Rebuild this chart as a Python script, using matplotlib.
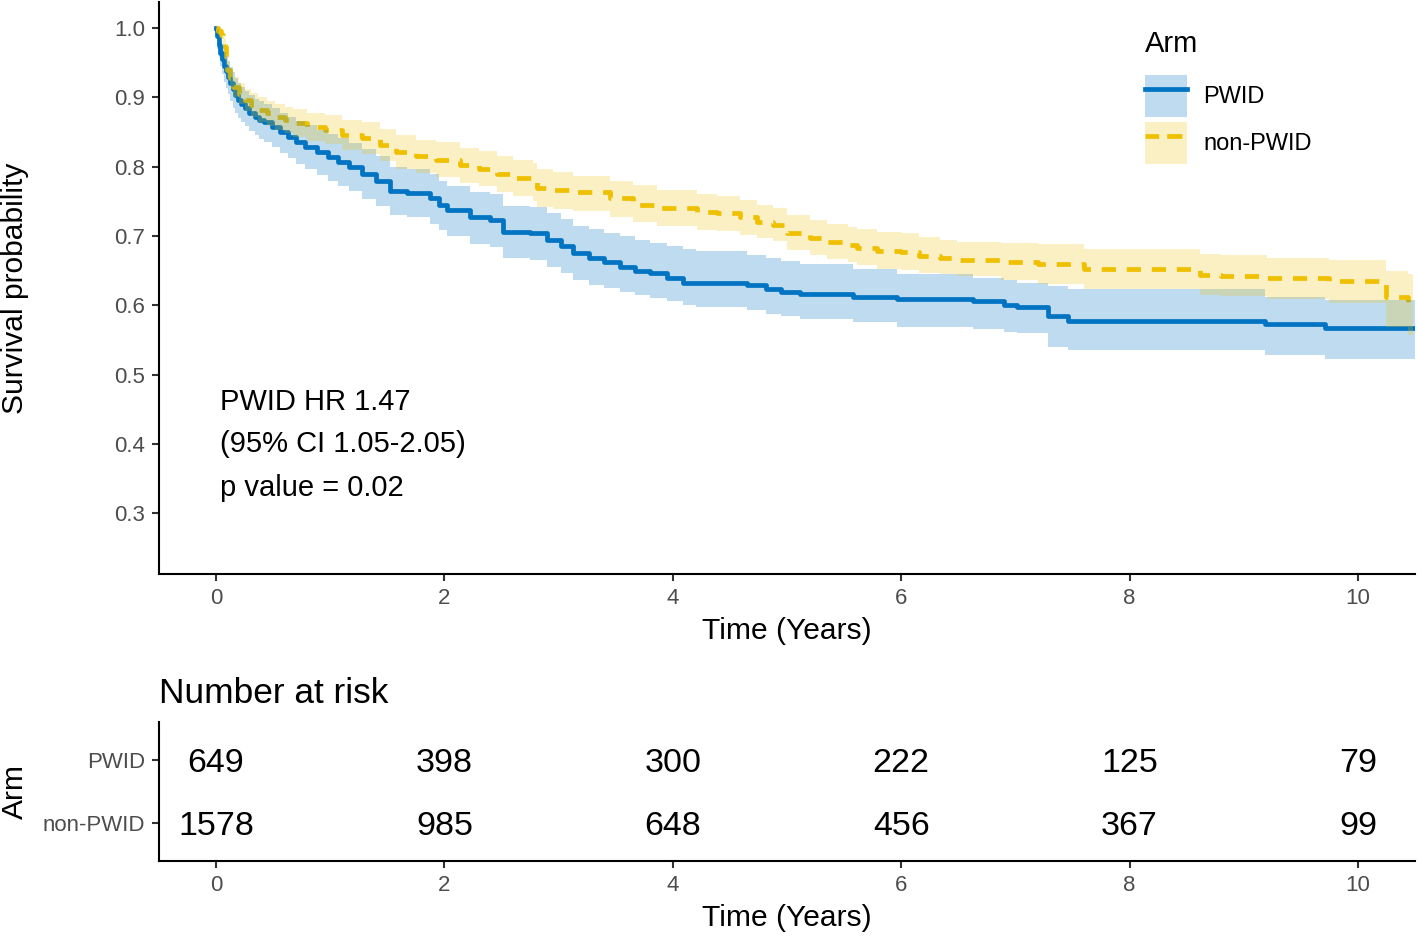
import matplotlib
matplotlib.use("Agg")
import matplotlib.pyplot as plt
from matplotlib.lines import Line2D
from matplotlib.patches import Patch
from matplotlib.legend_handler import HandlerTuple

plt.rcParams['font.family'] = ['Liberation Sans', 'DejaVu Sans']

# ---------------- data ----------------
arms = ["PWID", "non-PWID"]

pwid_time = [0.00, 0.012, 0.024, 0.035, 0.05, 0.07, 0.085, 0.105, 0.125, 0.15, 0.17, 0.19, 0.22, 0.25,
             0.29, 0.34, 0.38, 0.42, 0.49, 0.56, 0.63, 0.70, 0.78,
             0.88, 0.98, 1.07, 1.16, 1.28, 1.40, 1.52, 1.67, 1.87, 1.95, 2.02, 2.22, 2.40, 2.51,
             2.75, 2.90, 3.02, 3.13, 3.27, 3.40, 3.54, 3.67, 3.80, 3.95, 4.09, 4.20, 4.65, 4.82,
             4.95, 5.11, 5.58, 5.96, 6.63, 6.90, 7.01, 7.29, 7.46, 9.19, 9.71, 10.5]
pwid_surv = [1.000, 0.988, 0.976, 0.964, 0.955, 0.945, 0.938, 0.930, 0.921, 0.912, 0.904, 0.896, 0.890, 0.884,
             0.878, 0.872, 0.868, 0.864, 0.857, 0.850, 0.843, 0.836, 0.828,
             0.821, 0.814, 0.807, 0.800, 0.790, 0.780, 0.765, 0.762, 0.755, 0.745, 0.737, 0.727, 0.723, 0.706,
             0.704, 0.694, 0.685, 0.675, 0.668, 0.662, 0.655, 0.650, 0.646, 0.640, 0.633, 0.632, 0.629, 0.624,
             0.620, 0.616, 0.612, 0.609, 0.606, 0.600, 0.597, 0.585, 0.577, 0.573, 0.567, 0.567]
pwid_lower = [1.000, 0.970, 0.956, 0.945, 0.934, 0.922, 0.914, 0.905, 0.895, 0.885, 0.878, 0.870, 0.864, 0.858,
              0.851, 0.845, 0.840, 0.836, 0.828, 0.820, 0.812, 0.804, 0.796,
              0.788, 0.780, 0.772, 0.765, 0.754, 0.743, 0.730, 0.727, 0.718, 0.708, 0.700, 0.689, 0.684, 0.668,
              0.665, 0.656, 0.647, 0.637, 0.630, 0.625, 0.620, 0.615, 0.611, 0.606, 0.600, 0.598, 0.594, 0.588,
              0.584, 0.580, 0.576, 0.569, 0.566, 0.562, 0.560, 0.540, 0.535, 0.528, 0.522, 0.522]
pwid_upper = [1.000, 0.998, 0.990, 0.980, 0.974, 0.966, 0.960, 0.952, 0.944, 0.936, 0.928, 0.921, 0.915, 0.909,
              0.903, 0.898, 0.894, 0.891, 0.884, 0.878, 0.872, 0.866, 0.860,
              0.853, 0.847, 0.841, 0.834, 0.825, 0.815, 0.800, 0.797, 0.790, 0.780, 0.772, 0.763, 0.760, 0.744,
              0.742, 0.733, 0.725, 0.715, 0.710, 0.705, 0.700, 0.695, 0.690, 0.686, 0.681, 0.678, 0.673, 0.668,
              0.664, 0.660, 0.652, 0.645, 0.640, 0.636, 0.633, 0.628, 0.623, 0.612, 0.608, 0.608]

non_time = [0.00, 0.02, 0.04, 0.06, 0.08, 0.09, 0.10, 0.12, 0.15, 0.20, 0.25, 0.31, 0.37, 0.45, 0.52, 0.60, 0.67, 0.80, 0.95,
            1.10, 1.28, 1.44, 1.58, 1.75, 1.93, 2.14, 2.30, 2.46, 2.60, 2.78, 2.81, 2.95, 3.13, 3.45,
            3.65, 3.86, 4.21, 4.39, 4.59, 4.74, 4.88, 5.00, 5.20, 5.35, 5.53, 5.61, 5.79, 6.00, 6.16,
            6.34, 6.49, 6.87, 7.20, 7.60, 8.62, 8.80, 9.20, 9.75, 10.25, 10.44, 10.48]
non_surv = [1.000, 0.996, 0.990, 0.982, 0.973, 0.958, 0.940, 0.928, 0.915, 0.905, 0.896, 0.889, 0.882, 0.877, 0.872, 0.867, 0.863, 0.857, 0.853,
            0.846, 0.841, 0.831, 0.821, 0.815, 0.810, 0.802, 0.797, 0.789, 0.784, 0.778, 0.769, 0.766, 0.763, 0.755,
            0.745, 0.740, 0.735, 0.733, 0.728, 0.720, 0.716, 0.704, 0.697, 0.691, 0.687, 0.683, 0.678, 0.677, 0.671,
            0.668, 0.665, 0.662, 0.659, 0.652, 0.644, 0.642, 0.639, 0.635, 0.612, 0.600, 0.600]
non_lower = [1.000, 0.990, 0.980, 0.971, 0.962, 0.946, 0.928, 0.915, 0.901, 0.890, 0.880, 0.872, 0.864, 0.859, 0.853, 0.848, 0.843, 0.837, 0.832,
             0.824, 0.818, 0.808, 0.797, 0.791, 0.785, 0.777, 0.772, 0.763, 0.758, 0.751, 0.742, 0.739, 0.736, 0.728,
             0.720, 0.714, 0.709, 0.707, 0.702, 0.697, 0.693, 0.680, 0.673, 0.667, 0.662, 0.658, 0.652, 0.651, 0.647,
             0.645, 0.642, 0.636, 0.631, 0.624, 0.615, 0.613, 0.609, 0.604, 0.569, 0.558, 0.558]
non_upper = [1.000, 1.000, 1.000, 0.993, 0.984, 0.970, 0.952, 0.941, 0.929, 0.920, 0.912, 0.906, 0.900, 0.895, 0.891, 0.886, 0.883, 0.877, 0.874,
             0.868, 0.864, 0.854, 0.845, 0.839, 0.835, 0.827, 0.822, 0.815, 0.810, 0.805, 0.796, 0.793, 0.787, 0.779,
             0.773, 0.767, 0.761, 0.758, 0.752, 0.745, 0.741, 0.730, 0.723, 0.717, 0.713, 0.710, 0.706, 0.704, 0.698,
             0.695, 0.692, 0.690, 0.688, 0.682, 0.674, 0.672, 0.669, 0.665, 0.649, 0.645, 0.645]

risk_times = [0, 2, 4, 6, 8, 10]
risk_pwid = [649, 398, 300, 222, 125, 79]
risk_non = [1578, 985, 648, 456, 367, 99]

x_ticks = [0, 2, 4, 6, 8, 10]
y_ticks = [0.3, 0.4, 0.5, 0.6, 0.7, 0.8, 0.9, 1.0]

annot_lines = ["PWID HR 1.47", "(95% CI 1.05-2.05)", "p value = 0.02"]

# ---------------- style ----------------
BLUE = "#0073C2"
YELLOW = "#EFC000"
GRAY = "#4D4D4D"
TICK_FS = 16
TITLE_FS = 21.6
LW = 3.4

fig = plt.figure(figsize=(14.18, 9.36), dpi=100)
ax = fig.add_axes([0.1121, 0.3866, 0.8858, 0.6113])
axr = fig.add_axes([0.1121, 0.0801, 0.8858, 0.1485])

def style_axes(a):
    for s in ["top", "right"]:
        a.spines[s].set_visible(False)
    for s in ["left", "bottom"]:
        a.spines[s].set_linewidth(1.5)
        a.spines[s].set_color("black")
    a.tick_params(axis="both", direction="out", length=5, width=1.5, color="#333333",
                  labelsize=TICK_FS, labelcolor=GRAY, pad=5)

# lines first, ribbons on top (as in the reference)
ax.step(pwid_time, pwid_surv, where="post", color=BLUE, lw=LW, zorder=2)
ax.step(non_time, non_surv, where="post", color=YELLOW, lw=LW, zorder=2,
        linestyle=(0, (3.0, 2.3)))
ax.fill_between(pwid_time, pwid_lower, pwid_upper, step="post", color=BLUE, alpha=0.25,
                lw=0, zorder=3)
ax.fill_between(non_time, non_lower, non_upper, step="post", color=YELLOW, alpha=0.23,
                lw=0, zorder=4)

ax.set_xlim(-0.5, 10.5)
ax.set_ylim(0.2125, 1.0375)
ax.set_xticks(x_ticks)
ax.set_yticks(y_ticks)
ax.set_yticklabels([f"{v:.1f}" for v in y_ticks])
style_axes(ax)
ax.set_xlabel("Time (Years)", fontsize=TITLE_FS, labelpad=6)
ax.set_ylabel("Survival probability", fontsize=TITLE_FS)
ax.yaxis.set_label_coords(-0.1035, 0.5)

for txt, yv in zip(annot_lines, [0.46, 0.40, 0.336]):
    ax.text(0.035, yv, txt, fontsize=21, ha="left", va="center", color="black")

# legend
handles = [
    (Patch(facecolor=BLUE, alpha=0.25, edgecolor="none"), Line2D([], [], color=BLUE, lw=LW)),
    (Patch(facecolor=YELLOW, alpha=0.23, edgecolor="none"),
     Line2D([], [], color=YELLOW, lw=LW, linestyle=(0.3, (3.2, 1.7)))),
]
leg = ax.legend(handles, arms, title="Arm", loc="upper left",
                bbox_to_anchor=(1145 / 1418, 1 - 30 / 936), bbox_transform=fig.transFigure,
                frameon=False, fontsize=17, title_fontsize=21,
                handler_map={tuple: HandlerTuple(ndivide=1, pad=0)},
                handlelength=1.78, handleheight=2.4, handletextpad=0.7,
                labelspacing=0.18, borderpad=0, borderaxespad=0)
leg._legend_box.align = "left"
leg._legend_box.sep = 12

# risk table
for t, n in zip(risk_times, risk_pwid):
    axr.text(t, 2, str(n), fontsize=24.5, ha="center", va="center_baseline", color="black")
for t, n in zip(risk_times, risk_non):
    axr.text(t, 1, str(n), fontsize=24.5, ha="center", va="center_baseline", color="black")
axr.set_xlim(-0.5, 10.5)
axr.set_ylim(0.4, 2.6)
axr.set_xticks(x_ticks)
axr.set_yticks([2, 1])
axr.set_yticklabels(arms)
style_axes(axr)
axr.set_xlabel("Time (Years)", fontsize=TITLE_FS, labelpad=6)
axr.set_ylabel("Arm", fontsize=TITLE_FS)
axr.yaxis.set_label_coords(-0.1035, 0.5)
axr.set_title("Number at risk", loc="left", fontsize=25.4, pad=14)

fig.savefig("out.png", dpi=100)
